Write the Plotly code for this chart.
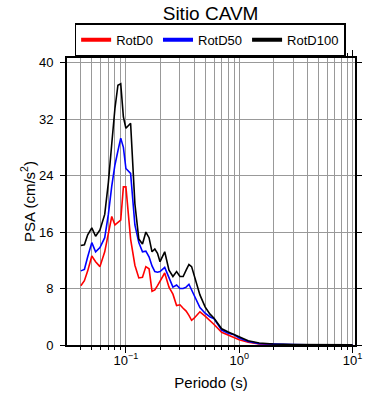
import plotly.graph_objects as go

periods = [0.040, 0.043, 0.046, 0.050, 0.054, 0.059, 0.065, 0.070, 0.075, 0.080,
           0.085, 0.090, 0.095, 0.100, 0.110, 0.120, 0.130, 0.140, 0.150, 0.160,
           0.170, 0.180, 0.190, 0.200, 0.220, 0.240, 0.260, 0.280, 0.300, 0.320,
           0.340, 0.360, 0.380, 0.400, 0.450, 0.500, 0.550, 0.600, 0.700, 0.800,
           0.900, 1.0, 1.2, 1.5, 2.0, 3.0, 4.0, 5.0, 7.0, 10.0]

rotd0 = [8.4, 9.1, 10.5, 12.6, 11.8, 11.1, 13.2, 15.6, 18.2, 17.0,
         17.3, 17.7, 22.4, 22.4, 15.0, 11.3, 9.5, 9.6, 11.1, 10.8,
         7.6, 7.8, 8.4, 9.0, 10.2, 8.2, 7.2, 5.6, 5.7, 5.2,
         4.8, 4.2, 3.5, 3.8, 4.7, 4.1, 3.5, 2.9, 1.8, 1.4,
         1.0, 0.75, 0.4, 0.15, 0.08, 0.05, 0.03, 0.02, 0.015, 0.01]

rotd50 = [10.5, 10.7, 12.5, 14.5, 13.2, 13.8, 15.2, 18.5, 22.5, 25.5,
          27.5, 29.3, 28.0, 25.0, 24.3, 17.0, 14.5, 13.2, 13.3, 12.5,
          11.2, 10.4, 10.3, 10.4, 11.0, 9.6, 8.2, 8.5, 8.0, 8.0,
          8.2, 8.6, 7.8, 6.8, 5.3, 4.5, 4.0, 3.7, 2.1, 1.65,
          1.45, 1.0, 0.5, 0.2, 0.12, 0.06, 0.04, 0.03, 0.02, 0.015]

rotd100 = [14.1, 14.2, 15.6, 16.6, 15.4, 16.3, 18.5, 23.0, 28.5, 33.5,
           36.8, 37.0, 32.3, 30.7, 31.4, 20.0, 15.0, 14.3, 16.0, 15.2,
           13.2, 13.6, 13.0, 11.8, 13.2, 10.6, 9.7, 10.4, 9.7, 9.7,
           10.6, 11.4, 11.1, 9.8, 7.1, 5.4, 4.4, 3.8, 2.3, 1.85,
           1.5, 1.2, 0.6, 0.28, 0.15, 0.08, 0.05, 0.04, 0.03, 0.02]

series_names = ["RotD0", "RotD50", "RotD100"]
series_colors = ["#ff0000", "#0000ff", "#000000"]
series_values = [rotd0, rotd50, rotd100]

x_tickvals = [0.1, 1, 10]
x_ticktext = ["10<sup>\u22121</sup>", "10<sup>0</sup>", "10<sup>1</sup>"]
y_tickvals = [0, 8, 16, 24, 32, 40]

FONT = "Liberation Sans, Arial, sans-serif"

fig = go.Figure()
for name, color, vals in zip(series_names, series_colors, series_values):
    fig.add_trace(go.Scatter(x=periods, y=vals, mode="lines", name=name,
                             line=dict(color=color, width=1.6), showlegend=False))
# legend entries with thicker line samples
for name, color in zip(series_names, series_colors):
    fig.add_trace(go.Scatter(x=[None], y=[None], mode="lines", name=name,
                             line=dict(color=color, width=4), showlegend=True))

fig.update_layout(
    width=390, height=400,
    margin=dict(l=67, r=35, t=58, b=55, autoexpand=False),
    paper_bgcolor="white", plot_bgcolor="white",
    font=dict(family=FONT, color="black", size=12),
    title=dict(text="Sitio CAVM", x=0.54, xanchor="center", y=0.967, yanchor="middle",
               font=dict(size=19, family=FONT, color="black")),
    legend=dict(orientation="h", x=0.497, xanchor="center", y=1.006, yanchor="bottom",
                bordercolor="black", borderwidth=1.5, bgcolor="white",
                font=dict(size=13, family=FONT), itemwidth=30, tracegroupgap=0),
    showlegend=True,
)

fig.update_xaxes(
    type="log", range=[-1.52, 1.022], automargin=False,
    tickmode="array", tickvals=x_tickvals, ticktext=x_ticktext,
    ticks="outside", ticklen=6, tickwidth=1, tickcolor="black",
    showline=True, linecolor="black", linewidth=2, mirror="ticks",
    showgrid=True, gridcolor="#999999", gridwidth=1,
    minor=dict(ticks="outside", ticklen=3, tickcolor="black", showgrid=True,
               gridcolor="#999999", gridwidth=1, dtick="D1"),
    tickfont=dict(size=13, family=FONT), ticklabelstandoff=-4,
    title=dict(text="Periodo (s)", font=dict(size=15, family=FONT), standoff=11),
    zeroline=False,
)
fig.update_yaxes(
    range=[0, 40.65], automargin=False,
    tickmode="array", tickvals=y_tickvals,
    ticks="outside", ticklen=5, tickwidth=1, tickcolor="black",
    showline=True, linecolor="black", linewidth=2, mirror="ticks",
    showgrid=True, gridcolor="#999999", gridwidth=1,
    tickfont=dict(size=13, family=FONT), ticklabelstandoff=4,
    title=dict(text="PSA (cm/s<sup>2</sup>)", font=dict(size=15, family=FONT), standoff=0),
    zeroline=False,
)

fig.write_html("out.html", config={"displayModeBar": False},
               post_script="document.body.style.margin='0';")
